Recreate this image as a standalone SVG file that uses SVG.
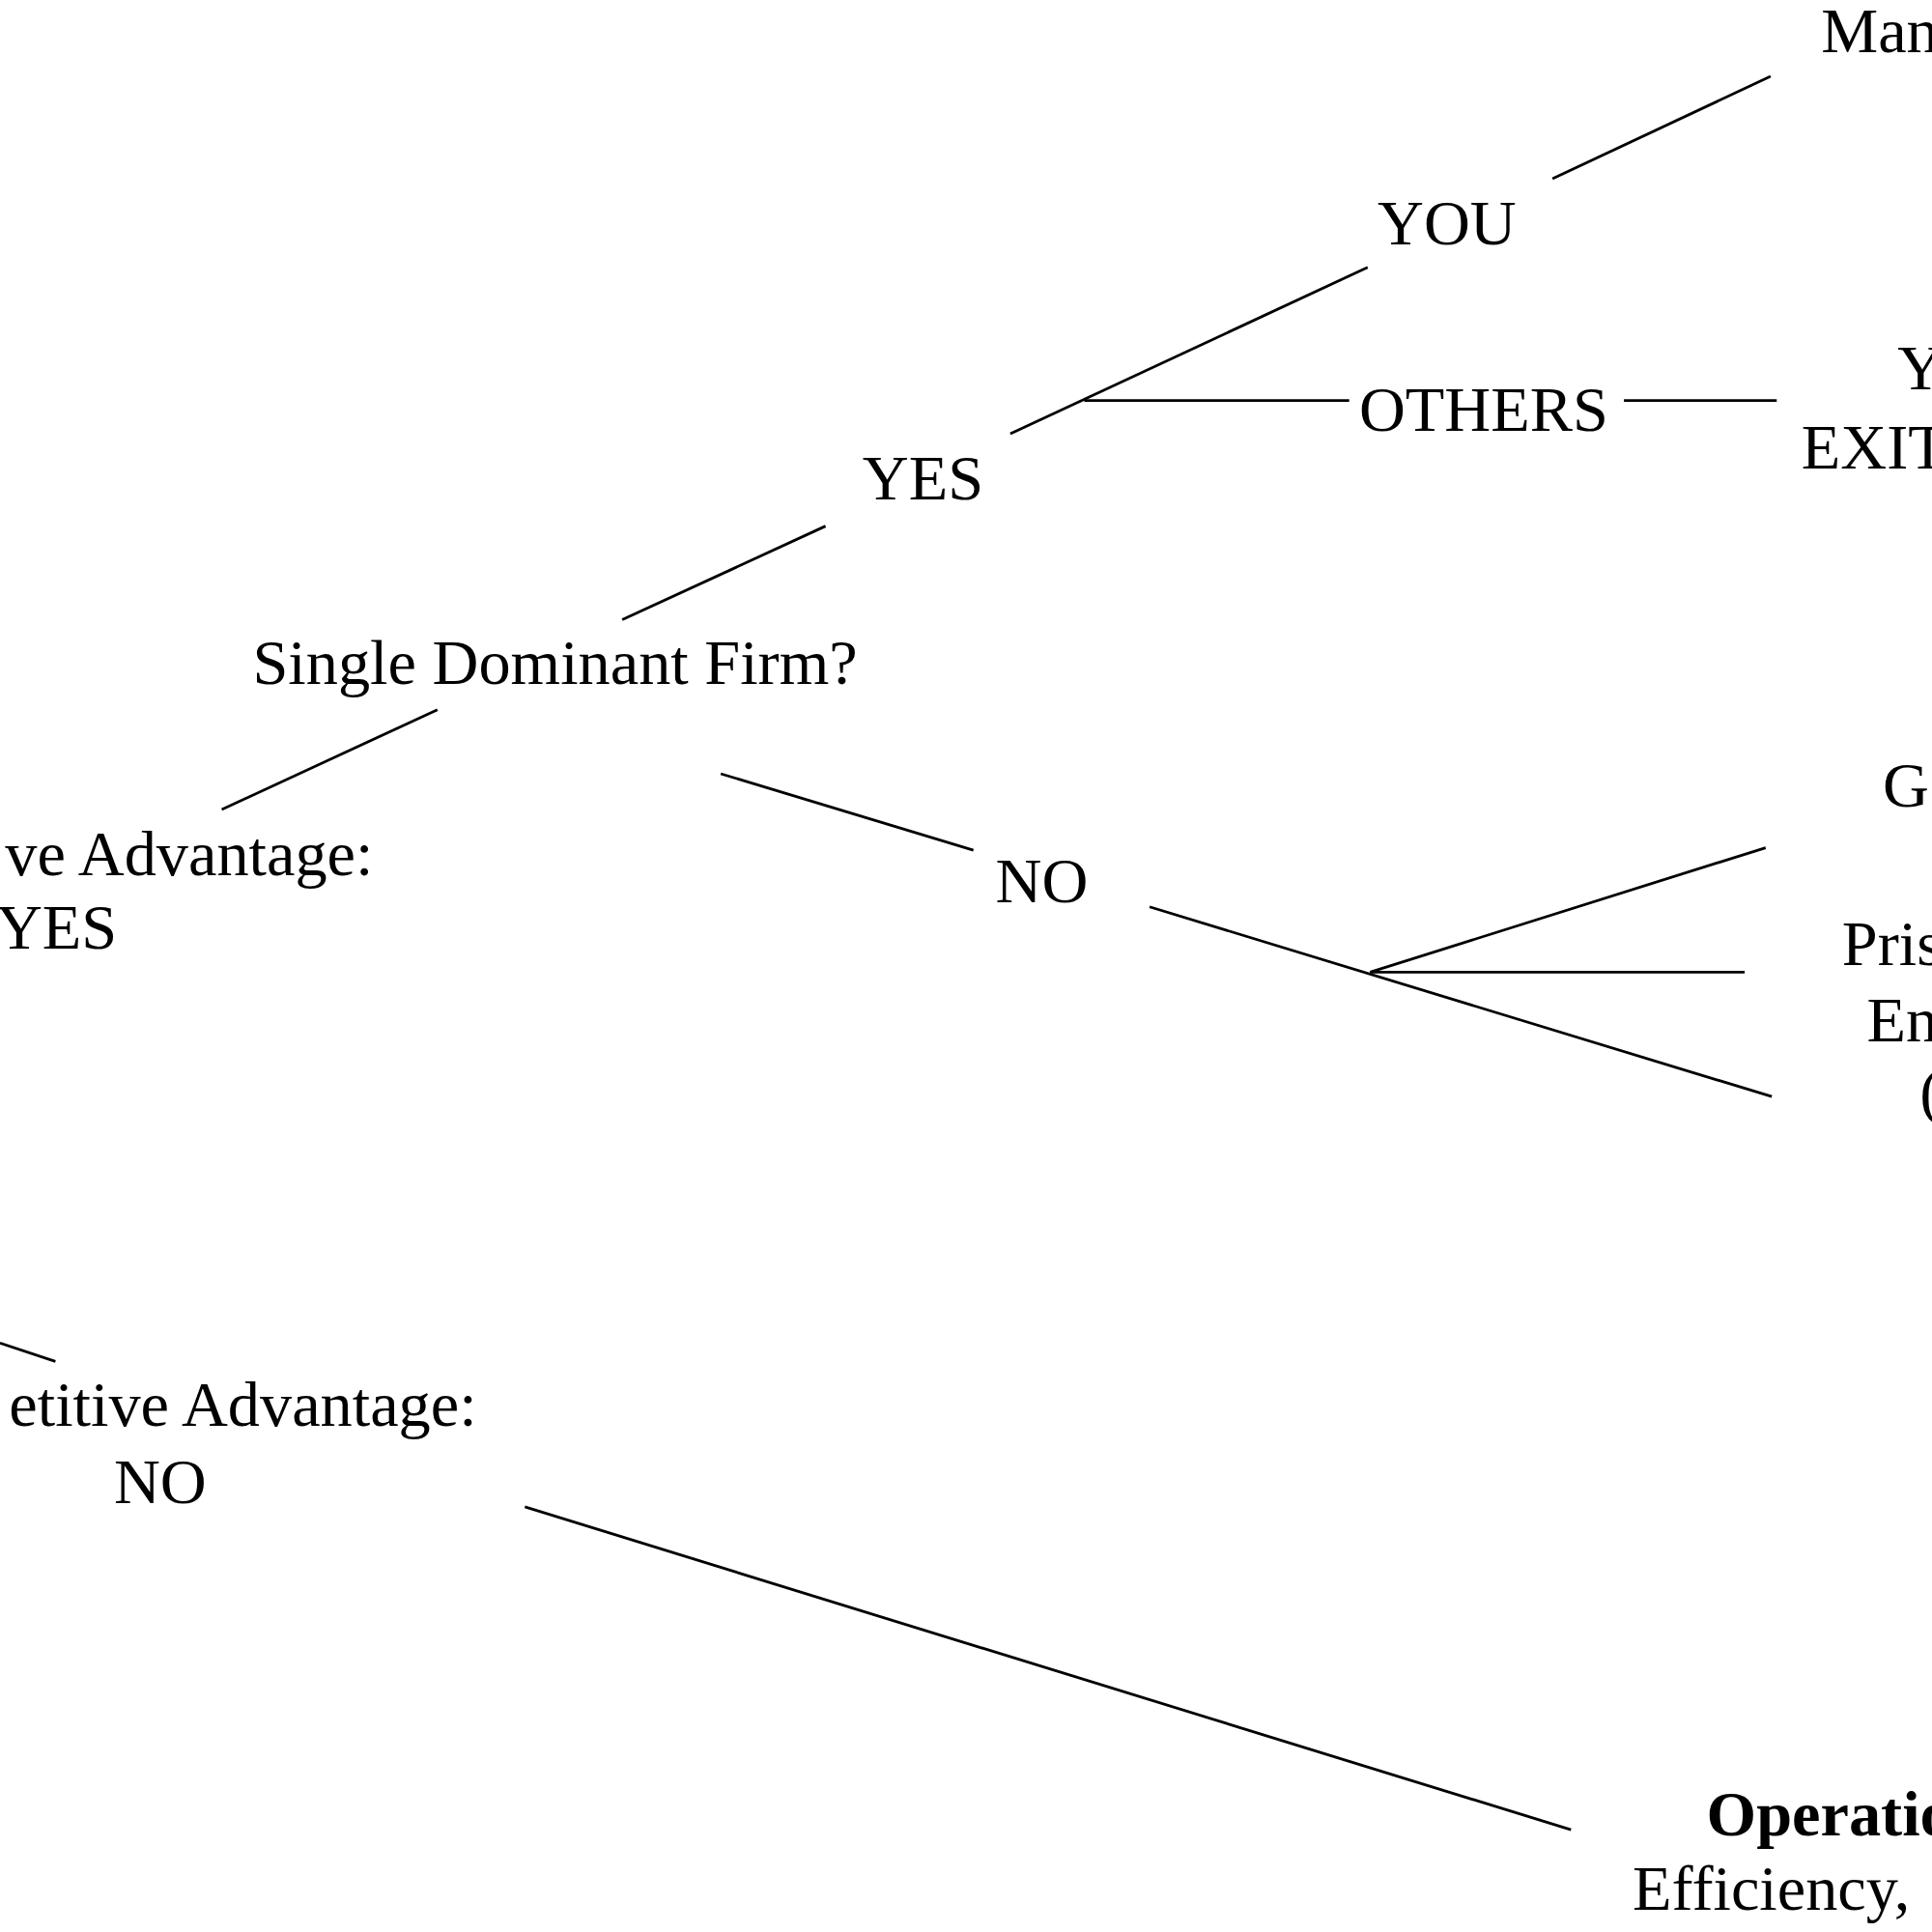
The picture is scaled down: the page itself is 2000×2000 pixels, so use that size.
<svg xmlns="http://www.w3.org/2000/svg" width="2000" height="2000" viewBox="0 0 2000 2000">
<style>
text{font-family:"Liberation Serif","Times New Roman",serif;font-size:52px;fill:#000}
.b{font-weight:bold}
line{stroke:#000;stroke-width:2.2}
</style>
<rect width="2000" height="2000" fill="#fff"/>
<g transform="scale(1.2755)">
<g id="connectors">
<line x1="1260" y1="145" x2="1437" y2="62"/>
<line x1="820" y1="352" x2="1110" y2="217"/>
<line x1="880" y1="325" x2="1095" y2="325"/>
<line x1="1318" y1="325" x2="1442" y2="325"/>
<line x1="505" y1="503" x2="670" y2="427"/>
<line x1="180" y1="657" x2="355" y2="576"/>
<line x1="585" y1="628" x2="790" y2="690"/>
<line x1="933" y1="736" x2="1438" y2="890"/>
<line x1="1112" y1="789" x2="1433" y2="688"/>
<line x1="1112" y1="789" x2="1416" y2="789"/>
<line x1="0" y1="1090" x2="45" y2="1105"/>
<line x1="426" y1="1223" x2="1275" y2="1485"/>
</g>
<g id="n-man"><text x="1478" y="42">Man</text></g>
<g id="n-you"><text x="1118" y="198">YOU</text></g>
<g id="n-others"><text x="1103" y="350">OTHERS</text></g>
<g id="n-exit"><text x="1540" y="316">Y</text><text x="1462" y="380">EXIT</text></g>
<g id="n-yes"><text x="700" y="405">YES</text></g>
<g id="n-single"><text x="205" y="555">Single Dominant Firm?</text></g>
<g id="n-ca-yes"><text x="303" y="710" text-anchor="end">ve Advantage:</text><text x="95" y="770" text-anchor="end">YES</text></g>
<g id="n-no"><text x="808" y="732">NO</text></g>
<g id="n-g"><text x="1528" y="655">G</text></g>
<g id="n-pris"><text x="1495" y="783">Pris</text><text x="1515" y="845">En</text><text x="1558" y="903">(</text></g>
<g id="n-ca-no"><text x="387" y="1157" text-anchor="end">etitive Advantage:</text><text x="130" y="1220" text-anchor="middle">NO</text></g>
<g id="n-op"><text class="b" x="1385" y="1490">Operatio</text><text x="1325" y="1550">Efficiency,</text></g>
</g>
</svg>
